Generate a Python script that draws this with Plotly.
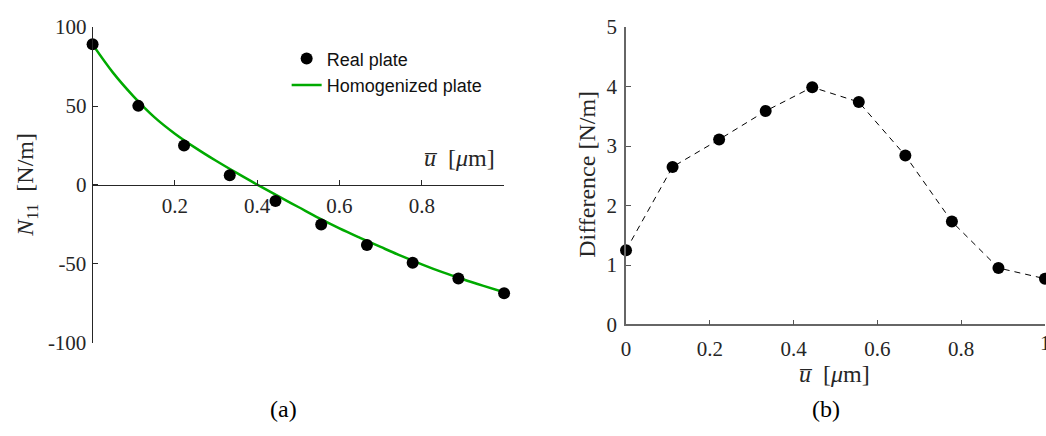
import plotly.graph_objects as go

W, H = 1046, 436

# ---- data ----
u_points = [0, 1/9, 2/9, 3/9, 4/9, 5/9, 6/9, 7/9, 8/9, 1.0]
n11_real = [89.2, 50.1, 25.0, 6.2, -10.2, -25.1, -38.1, -49.3, -59.3, -68.7]

u_curve = [0.0, 0.05, 0.10, 0.15, 0.20, 0.25, 0.30, 0.35, 0.40, 0.45, 0.50,
           0.55, 0.60, 0.65, 0.70, 0.75, 0.80, 0.85, 0.90, 0.95, 1.0]
n11_homog = [89.0, 71.0, 56.0, 43.0, 32.5, 23.5, 15.3, 7.6, 0.2, -7.0, -14.0,
             -21.0, -27.5, -33.5, -39.3, -45.0, -50.3, -55.3, -59.8, -64.0, -68.0]

difference = [1.25, 2.65, 3.11, 3.59, 3.99, 3.74, 2.84, 1.73, 0.95, 0.77]

left_xticks = [0.2, 0.4, 0.6, 0.8, 1.0]
left_xticklabels = ["0.2", "0.4", "0.6", "0.8", ""]
left_yticks = [-100, -50, 0, 50, 100]
left_yticklabels = ["-100", "-50", "0", "50", "100"]
right_xticks = [0, 0.2, 0.4, 0.6, 0.8, 1.0]
right_xticklabels = ["0", "0.2", "0.4", "0.6", "0.8", ""]
right_last_xlabel = "1"
right_yticks = [0, 1, 2, 3, 4, 5]

SERIF = "Liberation Serif"
SANS = "Liberation Sans"
GREEN = "rgb(0,170,0)"
TXT = "#262626"

def px(x):
    return x / W

def py(y):
    return (H - y) / H

fig = go.Figure()

fig.add_trace(go.Scatter(
    x=u_curve, y=n11_homog, mode="lines", name="Homogenized plate",
    line=dict(color=GREEN, width=2.5, shape="spline"),
    xaxis="x", yaxis="y", cliponaxis=False))
fig.add_trace(go.Scatter(
    x=u_points, y=n11_real, mode="markers", name="Real plate",
    marker=dict(color="black", size=12),
    xaxis="x", yaxis="y", cliponaxis=False))
fig.add_trace(go.Scatter(
    x=u_points, y=difference, mode="lines+markers", showlegend=False,
    line=dict(color="black", width=1, dash="6px,5px"),
    marker=dict(color="black", size=12),
    xaxis="x2", yaxis="y2", cliponaxis=False))

left_ydom = [py(350), py(16)]
right_ydom = [py(330.7), py(16)]
tickfont = dict(family=SERIF, size=21, color=TXT)

fig.update_layout(
    width=W, height=H,
    margin=dict(l=0, r=0, t=0, b=0),
    paper_bgcolor="white", plot_bgcolor="white",
    xaxis=dict(domain=[px(88), px(501.5)], range=[0, 1], anchor="free",
               position=(left_ydom[0] + left_ydom[1]) / 2,
               tickvals=left_xticks, ticktext=left_xticklabels,
               ticks="inside", ticklen=5, tickcolor=TXT,
               showline=True, linecolor=TXT, linewidth=1,
               showgrid=False, zeroline=False, tickfont=tickfont,
               ticklabelstandoff=2),
    yaxis=dict(domain=left_ydom, range=[-100, 100], anchor="x",
               tickvals=left_yticks, ticktext=left_yticklabels,
               ticks="inside", ticklen=5, tickcolor=TXT,
               showline=True, linecolor=TXT, linewidth=1,
               showgrid=False, zeroline=False, tickfont=tickfont,
               ticklabelstandoff=1),
    xaxis2=dict(domain=[px(624), px(1045)], range=[0, 1], anchor="y2",
                tickvals=right_xticks, ticktext=right_xticklabels,
                ticks="inside", ticklen=5, tickcolor="#555555",
                showline=True, linecolor="#666666", linewidth=1.5,
                showgrid=False, zeroline=False, tickfont=tickfont,
                ticklabelstandoff=5),
    yaxis2=dict(domain=right_ydom, range=[0, 5], anchor="x2",
                tickvals=right_yticks,
                ticks="inside", ticklen=5, tickcolor="#555555",
                showline=True, linecolor="#666666", linewidth=1.5,
                showgrid=False, zeroline=False, tickfont=tickfont,
                ticklabelstandoff=3),
    legend=dict(x=px(283), y=py(30), xanchor="left", yanchor="top",
                bgcolor="rgba(0,0,0,0)", font=dict(family=SANS, size=18, color="#111"),
                traceorder="reversed", itemwidth=30, tracegroupgap=0),
    showlegend=True,
)

ubar = "<i>u\u0305</i>  [<i>\u03bc</i>m]"
tfont = dict(family=SERIF, size=24, color=TXT)
ann = [
    dict(text=ubar, x=px(457), y=py(155), font=tfont),
    dict(text="<i>N</i><sub>11</sub>  [N/m]", x=px(22), y=py(183), textangle=-90, font=tfont),
    dict(text="Difference [N/m]", x=px(584), y=py(172), textangle=-90, font=tfont),
    dict(text=ubar, x=px(833), y=py(383), font=tfont),
    dict(text=right_last_xlabel, x=px(1045), y=py(350), font=dict(family=SERIF, size=21, color=TXT)),
    dict(text="(a)", x=px(280), y=py(420), font=dict(family=SERIF, size=24, color="black")),
    dict(text="(b)", x=px(825), y=py(420), font=dict(family=SERIF, size=24, color="black")),
]
for a in ann:
    fig.add_annotation(xref="paper", yref="paper", showarrow=False,
                       xanchor="center", yanchor="middle", **a)

fig.write_html("out.html")
